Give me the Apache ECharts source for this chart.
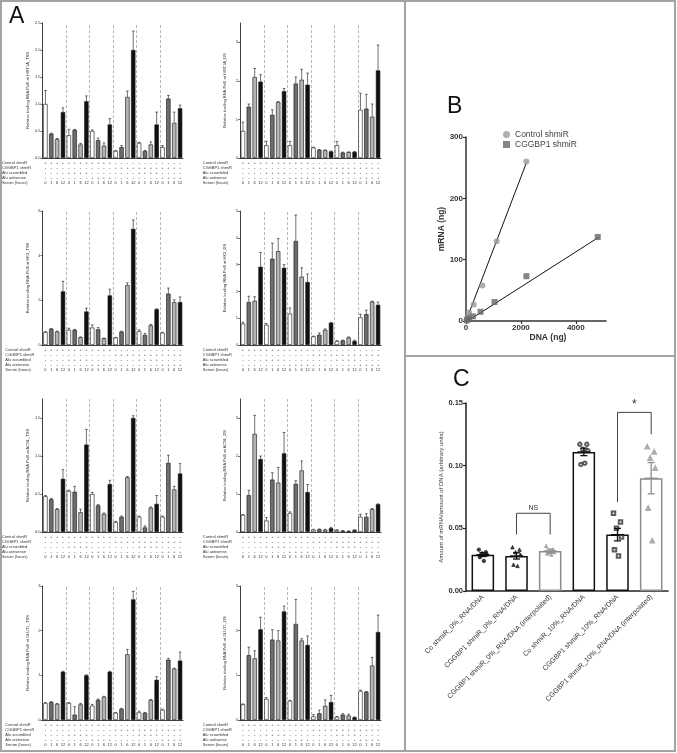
<!DOCTYPE html>
<html>
<head>
<meta charset="utf-8">
<script src="https://cdn.jsdelivr.net/npm/echarts@6/dist/echarts.min.js"></script>
<style>
  html, body { margin: 0; padding: 0; background: #fff; }
  #main { width: 677px; height: 753px; }
</style>
</head>
<body>
<div id="main"></div>
<script>
// ---- panel A: condition rows printed under every small chart ----
const rowNames = ['Control shmiR', 'CGGBP1 shmiR', 'Alu scrambled', 'Alu antisense', 'Serum (hours)'];
const controlShmir = '++++++++++++------------'.split('');
const cggbp1Shmir  = '------------++++++++++++'.split('');
const aluScrambled = '----++++--------++++----'.split('');
const aluAntisense = '--------++++--------++++'.split('');
const serumHours = ['0','1','6','12','0','1','6','12','0','1','6','12','0','1','6','12','0','1','6','12','0','1','6','12'];

// ---- panel A: bar heights (mean) and upper error bars, 6 groups x 4 time points ----
const hist1aTss    = [1.0,0.45,0.35,0.85, 0.42,0.52,0.25,1.05, 0.5,0.33,0.23,0.62, 0.13,0.2,1.13,2.0, 0.28,0.13,0.25,0.62, 0.2,1.1,0.65,0.92];
const hist1aTssErr = [0.25,0.01,0.01,0.08, 0.11,0.01,0.02,0.1, 0.02,0.04,0.05,0.11, 0.01,0.03,0.11,0.35, 0.01,0.01,0.05,0.23, 0.03,0.06,0.2,0.06];
const hist1aDs     = [0.7,1.33,2.1,1.98, 0.33,1.12,1.45,1.73, 0.33,1.93,2.03,1.9, 0.27,0.21,0.2,0.17, 0.33,0.14,0.15,0.16, 1.25,1.28,1.07,2.27];
const hist1aDsErr  = [0.23,0.07,0.22,0.18, 0.1,0.13,0.01,0.07, 0.1,0.17,0.27,0.3, 0.01,0.01,0.01,0.01, 0.1,0.01,0.01,0.01, 0.43,0.37,0.33,0.66];
const hk2Tss       = [0.58,0.72,0.6,2.4, 0.68,0.68,0.35,1.5, 0.78,0.7,0.3,2.22, 0.33,0.6,2.68,5.2, 0.62,0.45,0.88,1.6, 0.55,2.3,1.92,1.92];
const hk2TssErr    = [0.02,0.02,0.02,0.45, 0.07,0.02,0.01,0.15, 0.12,0.08,0.01,0.28, 0.01,0.02,0.1,0.4, 0.06,0.07,0.04,0.02, 0.02,0.25,0.1,0.23];
const hk2Ds        = [0.8,1.6,1.65,2.92, 0.75,3.22,3.5,2.88, 1.17,3.88,2.55,2.35, 0.32,0.38,0.57,0.83, 0.15,0.17,0.28,0.15, 1.03,1.15,1.62,1.5];
const hk2DsErr     = [0.05,0.22,0.15,0.53, 0.05,0.58,0.47,0.12, 0.21,0.97,0.33,0.3, 0.01,0.07,0.03,0.01, 0.01,0.01,0.02,0.03, 0.12,0.15,0.01,0.1];
const acslTss      = [0.47,0.43,0.3,0.7, 0.54,0.53,0.26,1.15, 0.5,0.35,0.24,0.63, 0.13,0.2,0.72,1.5, 0.2,0.06,0.32,0.37, 0.2,0.91,0.56,0.77];
const acslTssErr   = [0.01,0.01,0.01,0.12, 0.01,0.07,0.04,0.2, 0.02,0.01,0.01,0.05, 0.01,0.01,0.01,0.03, 0.01,0.02,0.01,0.11, 0.01,0.1,0.04,0.13];
const acslDs       = [0.45,0.97,2.58,1.92, 0.3,1.38,1.3,2.07, 0.5,1.27,1.62,1.05, 0.06,0.07,0.06,0.1, 0.05,0.03,0.02,0.05, 0.4,0.4,0.6,0.73];
const acslDsErr    = [0.01,0.13,0.49,0.08, 0.08,0.18,0.4,0.55, 0.03,0.08,0.25,0.2, 0.01,0.01,0.01,0.02, 0.01,0.01,0.01,0.01, 0.07,0.08,0.02,0.01];
const glut1Tss     = [0.38,0.4,0.36,1.08, 0.38,0.12,0.35,1.0, 0.32,0.45,0.52,1.08, 0.16,0.25,1.47,2.7, 0.17,0.16,0.45,0.9, 0.23,1.35,1.15,1.33];
const glut1TssErr  = [0.01,0.01,0.01,0.01, 0.01,0.18,0.02,0.01, 0.03,0.02,0.01,0.01, 0.01,0.01,0.11,0.18, 0.03,0.01,0.01,0.07, 0.01,0.03,0.01,0.19];
const glut1Ds      = [0.35,1.45,1.38,2.03, 0.47,1.8,1.78,2.43, 0.43,2.15,1.78,1.68, 0.08,0.15,0.32,0.4, 0.07,0.12,0.1,0.06, 0.65,0.63,1.22,1.97];
const glut1DsErr   = [0.01,0.18,0.17,0.27, 0.03,0.22,0.22,0.12, 0.01,0.55,0.04,0.2, 0.04,0.07,0.13,0.15, 0.01,0.02,0.03,0.01, 0.02,0.01,0.18,0.38];

// ---- panel B: mRNA vs DNA ----
const dnaControl   = [2200, 1120, 600, 280, 110, 50, 20];
const mrnaControl  = [260, 130, 58, 27, 14, 6, 3];
const dnaCggbp1    = [4800, 2200, 1040, 530, 250, 100, 40];
const mrnaCggbp1   = [137, 73, 31, 15, 7.6, 4, 1];
const fitControl   = [[0, 0], [2200, 258]];
const fitCggbp1    = [[60, 0], [4850, 137]];

// ---- panel C: mRNA / DNA ratios ----
const cCategories = [
  'Co shmiR_0%_RNA/DNA',
  'CGGBP1 shmiR_0%_RNA/DNA',
  'CGGBP1 shmiR_0%_RNA/DNA (interpolated)',
  'Co shmiR_10%_RNA/DNA',
  'CGGBP1 shmiR_10%_RNA/DNA',
  'CGGBP1 shmiR_10%_RNA/DNA (interpolated)'
];
const cMeans = [0.029, 0.028, 0.032, 0.111, 0.045, 0.090];
const cSem   = [0.0015, 0.0025, 0.0015, 0.003, 0.005, 0.0125];
const cPoints = [
  [0.033, 0.031, 0.030, 0.029, 0.027, 0.024],
  [0.035, 0.033, 0.031, 0.029, 0.021, 0.020],
  [0.036, 0.033, 0.031, 0.031, 0.030, 0.029],
  [0.117, 0.117, 0.113, 0.112, 0.101, 0.102],
  [0.062, 0.055, 0.050, 0.043, 0.033, 0.028],
  [0.115, 0.111, 0.106, 0.098, 0.066, 0.040]
];
// [left bar, right bar, left leg end, bracket top, right leg end, text]
const cBrackets = [
  [1, 2, 0.045, 0.062, 0.045, 'NS'],
  [4, 5, 0.071, 0.1425, 0.125, '*']
];

const FONT = 'Arial, "Liberation Sans", sans-serif';
const barFills = ['#ffffff', '#6d6d6d', '#b4b4b4', '#111111'];

const panelA = [
  { gene: 'HIST1A_TSS', mean: hist1aTss, err: hist1aTssErr, max: 2.5, step: 0.5, digits: 1 },
  { gene: 'HIST1A_DS',  mean: hist1aDs,  err: hist1aDsErr,  max: 3.5, step: 1,   digits: 0 },
  { gene: 'HK2_TSS',    mean: hk2Tss,    err: hk2TssErr,    max: 6,   step: 2,   digits: 0 },
  { gene: 'HK2_DS',     mean: hk2Ds,     err: hk2DsErr,     max: 5,   step: 1,   digits: 0 },
  { gene: 'ACSL_TSS',   mean: acslTss,   err: acslTssErr,   max: 1.75, step: 0.5, digits: 1 },
  { gene: 'ACSL_DS',    mean: acslDs,    err: acslDsErr,    max: 3.5, step: 1,   digits: 0 },
  { gene: 'GLUT1_TSS',  mean: glut1Tss,  err: glut1TssErr,  max: 3,   step: 1,   digits: 0 },
  { gene: 'GLUT1_DS',   mean: glut1Ds,   err: glut1DsErr,   max: 3,   step: 1,   digits: 0 }
];
const rowTop  = [23, 211, 399, 586];
const rowZero = [158, 345, 532, 720];
const condRows = [controlShmir, cggbp1Shmir, aluScrambled, aluAntisense, serumHours];

const chart = echarts.init(document.getElementById('main'));

const grid = [], xAxis = [], yAxis = [], series = [];

panelA.forEach((p, i) => {
  const row = i >> 1, col = i & 1;
  grid.push({ left: col ? 240 : 42.5, top: rowTop[row], width: col ? 141 : 140.5, height: rowZero[row] - rowTop[row] });
  xAxis.push({
    type: 'category', gridIndex: i,
    data: p.mean.map((v, k) => String(k)),
    axisLine: { lineStyle: { color: '#111', width: 0.8 } },
    axisTick: { show: false },
    axisLabel: {
      interval: 0, fontSize: 4, lineHeight: 5, margin: 2.5, color: '#333', fontFamily: FONT,
      formatter: (v, k) => condRows.map(r => r[k]).join('\n')
    },
    splitLine: { show: false },
    name: rowNames.join('\n'), nameLocation: 'start', nameGap: col ? 31 : 34,
    nameTextStyle: { fontSize: 4, lineHeight: 5, align: 'left', verticalAlign: 'top', padding: [2.5, 0, 0, 0], color: '#333', fontFamily: FONT }
  });
  yAxis.push({
    type: 'value', gridIndex: i, min: 0, max: p.max, interval: p.step,
    axisLine: { show: true, lineStyle: { color: '#111', width: 0.8 } },
    axisTick: { show: true, length: 2, lineStyle: { color: '#111', width: 0.6 } },
    axisLabel: { fontSize: 4, margin: 2, color: '#333', fontFamily: FONT, showMaxLabel: p.max % p.step === 0,
      formatter: v => v.toFixed(p.digits) },
    splitLine: { show: false },
    name: 'Relative binding RNA PolII at ' + p.gene, nameLocation: 'middle', nameGap: 13,
    nameTextStyle: { fontSize: 4, color: '#333', fontFamily: FONT }
  });
  // dashed separators between the six groups of four bars
  const bounds = [];
  for (let k = 4; k < p.mean.length; k += 4) bounds.push([k]);
  series.push({
    type: 'custom', xAxisIndex: i, yAxisIndex: i, z: 1, silent: true,
    data: bounds,
    renderItem: (params, api) => {
      const k = api.value(0);
      const a = api.coord([k - 1, 0]), b = api.coord([k, 0]);
      const x = Math.round((a[0] + b[0]) / 2) + 0.5;
      return { type: 'line', shape: { x1: x, y1: b[1], x2: x, y2: params.coordSys.y },
        style: { stroke: '#9a9a9a', lineWidth: 0.7, lineDash: [3, 2] } };
    }
  });
  series.push({
    type: 'bar', xAxisIndex: i, yAxisIndex: i, barCategoryGap: '26%', z: 2,
    data: p.mean.map((v, k) => ({ value: v, itemStyle: { color: barFills[k % 4] } })),
    itemStyle: { borderColor: '#111', borderWidth: 0.6 }
  });
  series.push({
    type: 'custom', xAxisIndex: i, yAxisIndex: i, z: 5,
    data: p.mean.map((v, k) => [k, v, p.err[k]]),
    renderItem: (params, api) => {
      const k = api.value(0), m = api.value(1), e = api.value(2);
      const b = api.coord([k, m]), t = api.coord([k, m + e]);
      const st = { stroke: '#111', lineWidth: 0.6 };
      return { type: 'group', children: [
        { type: 'line', shape: { x1: b[0], y1: b[1], x2: b[0], y2: t[1] }, style: st },
        { type: 'line', shape: { x1: b[0] - 1.3, y1: t[1], x2: b[0] + 1.3, y2: t[1] }, style: st }
      ] };
    }
  });
});

// ---- panel B ----
const gB = grid.length;
grid.push({ left: 466, top: 137, width: 140, height: 184 });
xAxis.push({
  type: 'value', gridIndex: gB, min: 0, max: 5100, interval: 2000,
  axisLine: { lineStyle: { color: '#333', width: 1.5 } },
  axisTick: { length: 3, lineStyle: { color: '#333', width: 1.2 } },
  axisLabel: { showMaxLabel: false, fontSize: 8, fontWeight: 'bold', color: '#333', margin: 3, fontFamily: FONT,
    formatter: v => String(v) },
  splitLine: { show: false },
  name: 'DNA (ng)', nameLocation: 'middle', nameGap: 12,
  nameTextStyle: { fontSize: 8.5, fontWeight: 'bold', color: '#333', padding: [0, 0, 0, 24], fontFamily: FONT }
});
yAxis.push({
  type: 'value', gridIndex: gB, min: 0, max: 300, interval: 100,
  axisLine: { show: true, lineStyle: { color: '#333', width: 1.5 } },
  axisTick: { show: true, length: 3, lineStyle: { color: '#333', width: 1.2 } },
  axisLabel: { fontSize: 8, fontWeight: 'bold', color: '#333', margin: 3, fontFamily: FONT },
  splitLine: { show: false },
  name: 'mRNA (ng)', nameLocation: 'middle', nameGap: 17,
  nameTextStyle: { fontSize: 8.5, fontWeight: 'bold', color: '#333', fontFamily: FONT }
});
series.push({
  type: 'line', xAxisIndex: gB, yAxisIndex: gB, data: fitControl, symbol: 'none',
  lineStyle: { color: '#111', width: 1 }, silent: true
});
series.push({
  type: 'line', xAxisIndex: gB, yAxisIndex: gB, data: fitCggbp1, symbol: 'none',
  lineStyle: { color: '#111', width: 1 }, silent: true
});
series.push({
  name: 'Control shmiR', type: 'scatter', xAxisIndex: gB, yAxisIndex: gB, z: 4,
  data: dnaControl.map((d, k) => [d, mrnaControl[k]]),
  symbol: 'circle', symbolSize: 6, itemStyle: { color: '#9a9a9a' }
});
series.push({
  name: 'CGGBP1 shmiR', type: 'scatter', xAxisIndex: gB, yAxisIndex: gB, z: 4,
  data: dnaCggbp1.map((d, k) => [d, mrnaCggbp1[k]]),
  symbol: 'rect', symbolSize: 6, itemStyle: { color: '#666' }
});

// ---- panel C ----
const gC = grid.length;
grid.push({ left: 466, top: 403, width: 202, height: 188 });
xAxis.push({
  type: 'category', gridIndex: gC, data: cCategories,
  axisLine: { lineStyle: { color: '#222', width: 1.5 } },
  axisTick: { show: false },
  axisLabel: { interval: 0, rotate: 45, fontSize: 7, color: '#333', margin: 5, fontFamily: FONT }
});
yAxis.push({
  type: 'value', gridIndex: gC, min: 0, max: 0.15, interval: 0.05,
  axisLine: { show: true, lineStyle: { color: '#222', width: 1.5 } },
  axisTick: { show: true, length: 3, lineStyle: { color: '#222', width: 1.2 } },
  axisLabel: { fontSize: 7.5, fontWeight: 'bold', color: '#333', margin: 3, fontFamily: FONT, formatter: v => v.toFixed(2) },
  splitLine: { show: false },
  name: 'Amount of mRNA/amount of DNA (arbitrary units)', nameLocation: 'middle', nameGap: 21,
  nameTextStyle: { fontSize: 6, color: '#333', fontFamily: FONT }
});
const cBorder = ['#111', '#111', '#8c8c8c', '#111', '#111', '#8c8c8c'];
series.push({
  type: 'bar', xAxisIndex: gC, yAxisIndex: gC, barCategoryGap: '33%',
  data: cMeans.map((v, k) => ({ value: v, itemStyle: { color: '#fff', borderColor: cBorder[k], borderWidth: 1.5 } }))
});
const cSymbols = ['circle', 'triangle', 'triangle', 'emptyCircle', 'emptyRect', 'emptyTriangle'];
const cColors  = ['#111', '#111', '#999', '#333', '#333', '#999'];
const jitter = [-4, 3, -1, 4, -3, 1];
const cScatter = [];
cPoints.forEach((pts, i) => pts.forEach((v, j) => cScatter.push({
  value: [i, v], symbol: cSymbols[i], symbolOffset: [jitter[j], 0],
  itemStyle: { color: cColors[i], borderColor: cColors[i], borderWidth: 0.8 }
})));
series.push({
  type: 'scatter', xAxisIndex: gC, yAxisIndex: gC, z: 4, symbolSize: 3.5, data: cScatter
});
series.push({
  type: 'custom', xAxisIndex: gC, yAxisIndex: gC, z: 5,
  data: cMeans.map((v, k) => [k, v, cSem[k]]),
  renderItem: (params, api) => {
    const k = api.value(0), m = api.value(1), e = api.value(2);
    const c = api.coord([k, m]), lo = api.coord([k, m - e]), hi = api.coord([k, m + e]);
    const st = { stroke: cBorder[k], lineWidth: 1.3 };
    return { type: 'group', children: [
      { type: 'line', shape: { x1: c[0] - 6.5, y1: c[1], x2: c[0] + 6.5, y2: c[1] }, style: st },
      { type: 'line', shape: { x1: c[0], y1: lo[1], x2: c[0], y2: hi[1] }, style: st },
      { type: 'line', shape: { x1: c[0] - 3.5, y1: lo[1], x2: c[0] + 3.5, y2: lo[1] }, style: st },
      { type: 'line', shape: { x1: c[0] - 3.5, y1: hi[1], x2: c[0] + 3.5, y2: hi[1] }, style: st }
    ] };
  }
});
series.push({
  type: 'custom', xAxisIndex: gC, yAxisIndex: gC, z: 6,
  data: cBrackets.map(b => b.slice(0, 5)),
  renderItem: (params, api) => {
    const a = api.value(0), b = api.value(1);
    const p1 = api.coord([a, api.value(2)]), p2 = api.coord([a, api.value(3)]);
    const p3 = api.coord([b, api.value(3)]), p4 = api.coord([b, api.value(4)]);
    const txt = cBrackets[params.dataIndex][5];
    return { type: 'group', children: [
      { type: 'polyline', shape: { points: [p1, p2, p3, p4] }, style: { stroke: '#444', lineWidth: 1, fill: null } },
      { type: 'text', style: { text: txt, x: (p2[0] + p3[0]) / 2, y: p2[1] - 2, align: 'center', verticalAlign: 'bottom',
        fontSize: txt === '*' ? 12 : 7, fill: '#333', fontFamily: FONT } }
    ] };
  }
});

const frame = { stroke: '#a3a3a3', lineWidth: 2, fill: null };
chart.setOption({
  animation: false,
  backgroundColor: '#fff',
  textStyle: { fontFamily: FONT },
  grid, xAxis, yAxis, series,
  legend: {
    data: ['Control shmiR', 'CGGBP1 shmiR'], orient: 'vertical', left: 503, top: 130,
    itemWidth: 7, itemHeight: 7, itemGap: 1, padding: 0,
    textStyle: { fontSize: 8.5, color: '#444', fontFamily: FONT }
  },
  graphic: [
    { type: 'rect', shape: { x: 1, y: 1, width: 674, height: 750 }, style: frame, silent: true },
    { type: 'line', shape: { x1: 405, y1: 1, x2: 405, y2: 752 }, style: frame, silent: true },
    { type: 'line', shape: { x1: 405, y1: 356, x2: 676, y2: 356 }, style: frame, silent: true },
    { type: 'text', left: 9, top: 5, style: { text: 'A', fontSize: 23, fill: '#111', fontFamily: FONT } },
    { type: 'text', left: 447, top: 95, style: { text: 'B', fontSize: 23, fill: '#111', fontFamily: FONT } },
    { type: 'text', left: 453, top: 368, style: { text: 'C', fontSize: 23, fill: '#111', fontFamily: FONT } }
  ]
});
</script>
</body>
</html>
